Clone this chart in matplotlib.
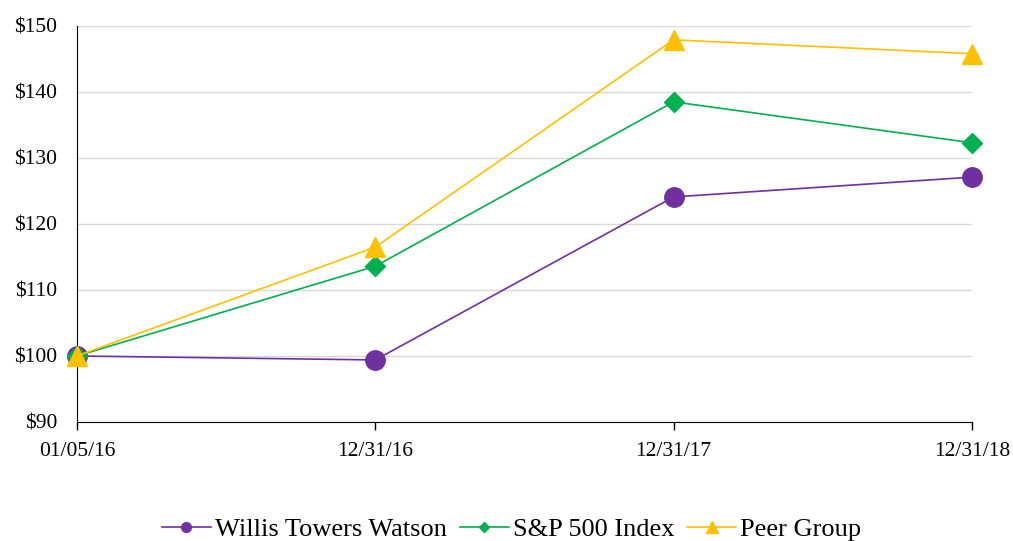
import matplotlib
matplotlib.use("Agg")
import matplotlib.pyplot as plt
from matplotlib.lines import Line2D

# data
dates = ['01/05/16', '12/31/16', '12/31/17', '12/31/18']
wtw = [100.0, 99.4, 124.1, 127.1]
sp500 = [100.0, 113.6, 138.5, 132.3]
peer = [100.0, 116.5, 147.9, 145.8]
yticks = [90, 100, 110, 120, 130, 140, 150]

purple = '#7030A0'
green = '#00B050'
gold = '#FFC000'

plt.rcParams['font.family'] = ['Liberation Serif', 'DejaVu Serif']

fig = plt.figure(figsize=(10.13, 5.41), dpi=100)
ax = fig.add_axes([0.076, 0.22, 0.8835, 0.732])

x = list(range(len(dates)))
ax.plot(x, wtw, color=purple, lw=1.2, marker='o', ms=14, clip_on=False, zorder=3)
ax.plot(x, sp500, color=green, lw=1.2, marker='D', ms=10, clip_on=False, zorder=4)
ax.plot(x, peer, color=gold, lw=1.2, marker='^', ms=14, clip_on=False, zorder=5)

ax.set_xlim(0, 3)
ax.set_ylim(90, 150)
ax.set_xticks(x)
ax.set_xticklabels(dates)
ax.set_yticks(yticks)
ax.set_yticklabels(['$%d' % v for v in yticks])
ax.tick_params(axis='x', length=5.5, width=1, labelsize=15.5, pad=9)
ax.tick_params(axis='y', length=0, labelsize=15.5, pad=14)

ax.grid(axis='y', color='#D9D9D9', lw=1)
ax.set_axisbelow(True)
for s in ['top', 'right']:
    ax.spines[s].set_visible(False)
ax.spines['left'].set_color('black')
ax.spines['bottom'].set_color('black')

handles = [
    Line2D([], [], color=purple, lw=1.2, marker='o', ms=7),
    Line2D([], [], color=green, lw=1.2, marker='D', ms=5.5),
    Line2D([], [], color=gold, lw=1.2, marker='^', ms=8),
]
fig.legend(handles, ['Willis Towers Watson', 'S&P 500 Index', 'Peer Group'],
           loc='center', bbox_to_anchor=(0.505, 0.022), ncol=3, frameon=False,
           fontsize=19, handlelength=1.85, handletextpad=0.15, columnspacing=0.5,
           borderpad=0)

fig.savefig('out.png', dpi=100)
